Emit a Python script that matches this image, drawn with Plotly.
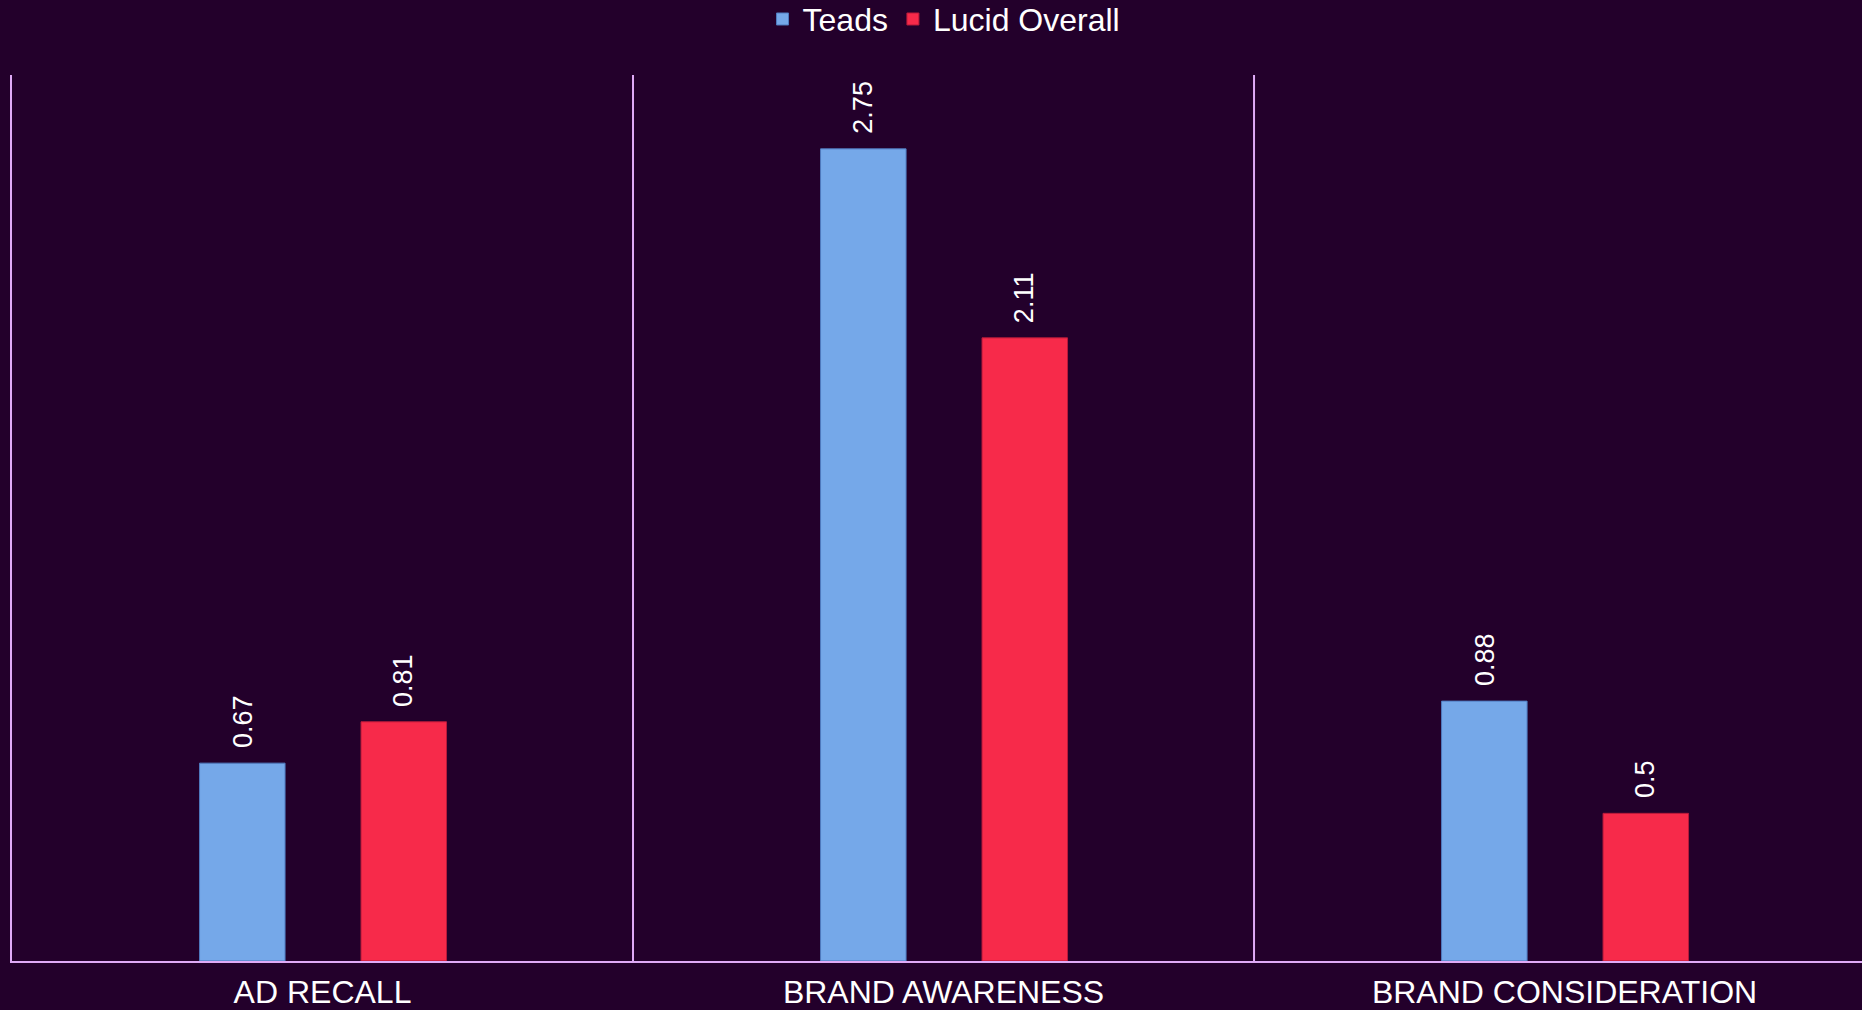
import plotly.graph_objects as go

categories = ["AD RECALL", "BRAND AWARENESS", "BRAND CONSIDERATION"]
teads = [0.67, 2.75, 0.88]
lucid = [0.81, 2.11, 0.5]
series_names = ["Teads", "Lucid Overall"]

BG = "#23002B"
LINE = "#E0AAF7"
BLUE = "#75A8E9"
RED = "#F72A4A"
FONT = "Liberation Sans, Arial, sans-serif"

W = 0.1377
OFFS = [-0.198, 0.062]

fig = go.Figure()
for name, vals, col, edge, off in [
    (series_names[0], teads, BLUE, "#4F7BBF", OFFS[0]),
    (series_names[1], lucid, RED, "#B81A3A", OFFS[1]),
]:
    fig.add_trace(go.Bar(
        x=list(range(len(categories))), y=vals, name=name,
        marker=dict(color=col, line=dict(color=edge, width=1)),
        width=W, offset=off,
    ))
    for i, v in enumerate(vals):
        fig.add_annotation(
            x=i + off + W / 2, y=v, xref="x", yref="y",
            text=str(v), textangle=-90, showarrow=False,
            yanchor="bottom", xanchor="center", yshift=13,
            font=dict(family=FONT, size=27, color="#FFFFFF"),
        )

for xb in [0.5, 1.5]:
    fig.add_shape(type="line", xref="x", yref="y", x0=xb, x1=xb, y0=0, y1=3,
                  line=dict(color=LINE, width=2), layer="below")

fig.update_layout(
    width=1862, height=1010,
    paper_bgcolor=BG, plot_bgcolor=BG,
    barmode="overlay",
    margin=dict(l=12, r=0, t=75, b=49, autoexpand=False),
    font=dict(family=FONT, color="#FFFFFF"),
    showlegend=True,
    legend=dict(
        orientation="h", xref="container", yref="container",
        x=0.507, xanchor="center", y=0.981, yanchor="middle",
        font=dict(family=FONT, size=32, color="#FFFFFF"),
        itemwidth=30, bgcolor="rgba(0,0,0,0)",
    ),
    xaxis=dict(
        range=[-0.5, 2.479], tickmode="array",
        tickvals=list(range(len(categories))), ticktext=categories,
        showgrid=False, zeroline=False, showline=True, linecolor=LINE, linewidth=2,
        ticks="outside", ticklen=2, tickcolor="rgba(0,0,0,0)",
        tickfont=dict(family=FONT, size=32, color="#FFFFFF"),
        automargin=False, fixedrange=True,
    ),
    yaxis=dict(
        range=[0, 3], showgrid=False, zeroline=False, showticklabels=False,
        showline=True, linecolor=LINE, linewidth=2, ticks="",
        automargin=False, fixedrange=True,
    ),
)

fig.write_html("out.html", config={"displayModeBar": False})
